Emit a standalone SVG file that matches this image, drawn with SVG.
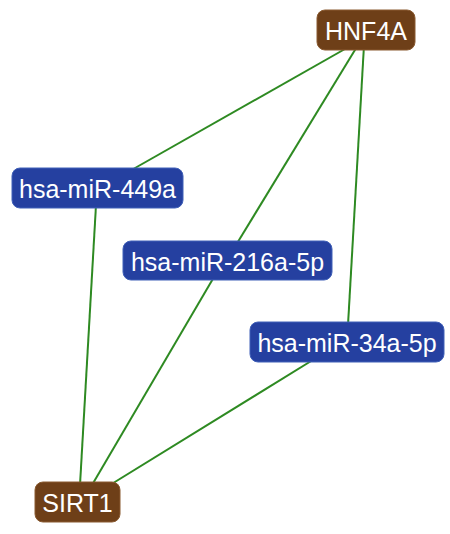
<svg xmlns="http://www.w3.org/2000/svg" width="450" height="534" viewBox="0 0 450 534">
<style>
.edge{stroke:#2e8a22;stroke-width:2;fill:none}
.gene{fill:#6e3f18;stroke:#8a5a30;stroke-width:1}
.mir{fill:#2540a0;stroke:#4060b8;stroke-width:1}
.lbl{fill:#ffffff;font-family:"Liberation Sans",Arial,sans-serif;font-size:25px;text-anchor:middle;dominant-baseline:central}
</style>
<rect width="450" height="534" fill="#ffffff"/>
<g id="edges">
<line class="edge" x1="352" y1="45" x2="128" y2="172"/>
<line class="edge" x1="358" y1="45" x2="236" y2="245"/>
<line class="edge" x1="364" y1="45" x2="348" y2="325"/>
<line class="edge" x1="96" y1="205" x2="80" y2="485"/>
<line class="edge" x1="214" y1="277" x2="92" y2="485"/>
<line class="edge" x1="316" y1="358" x2="110" y2="485"/>
</g>
<g id="HNF4A">
<rect class="gene" x="317" y="10" width="98" height="40" rx="8"/>
<text class="lbl" x="366" y="31">HNF4A</text>
</g>
<g id="hsa-miR-449a">
<rect class="mir" x="12" y="168" width="171" height="40" rx="8"/>
<text class="lbl" x="97.5" y="189">hsa-miR-449a</text>
</g>
<g id="hsa-miR-216a-5p">
<rect class="mir" x="123" y="241" width="209" height="39" rx="8"/>
<text class="lbl" x="227.5" y="261.5">hsa-miR-216a-5p</text>
</g>
<g id="hsa-miR-34a-5p">
<rect class="mir" x="250" y="322" width="194" height="40" rx="8"/>
<text class="lbl" x="347" y="343">hsa-miR-34a-5p</text>
</g>
<g id="SIRT1">
<rect class="gene" x="35" y="482" width="85" height="40" rx="8"/>
<text class="lbl" x="77.5" y="503">SIRT1</text>
</g>
</svg>
